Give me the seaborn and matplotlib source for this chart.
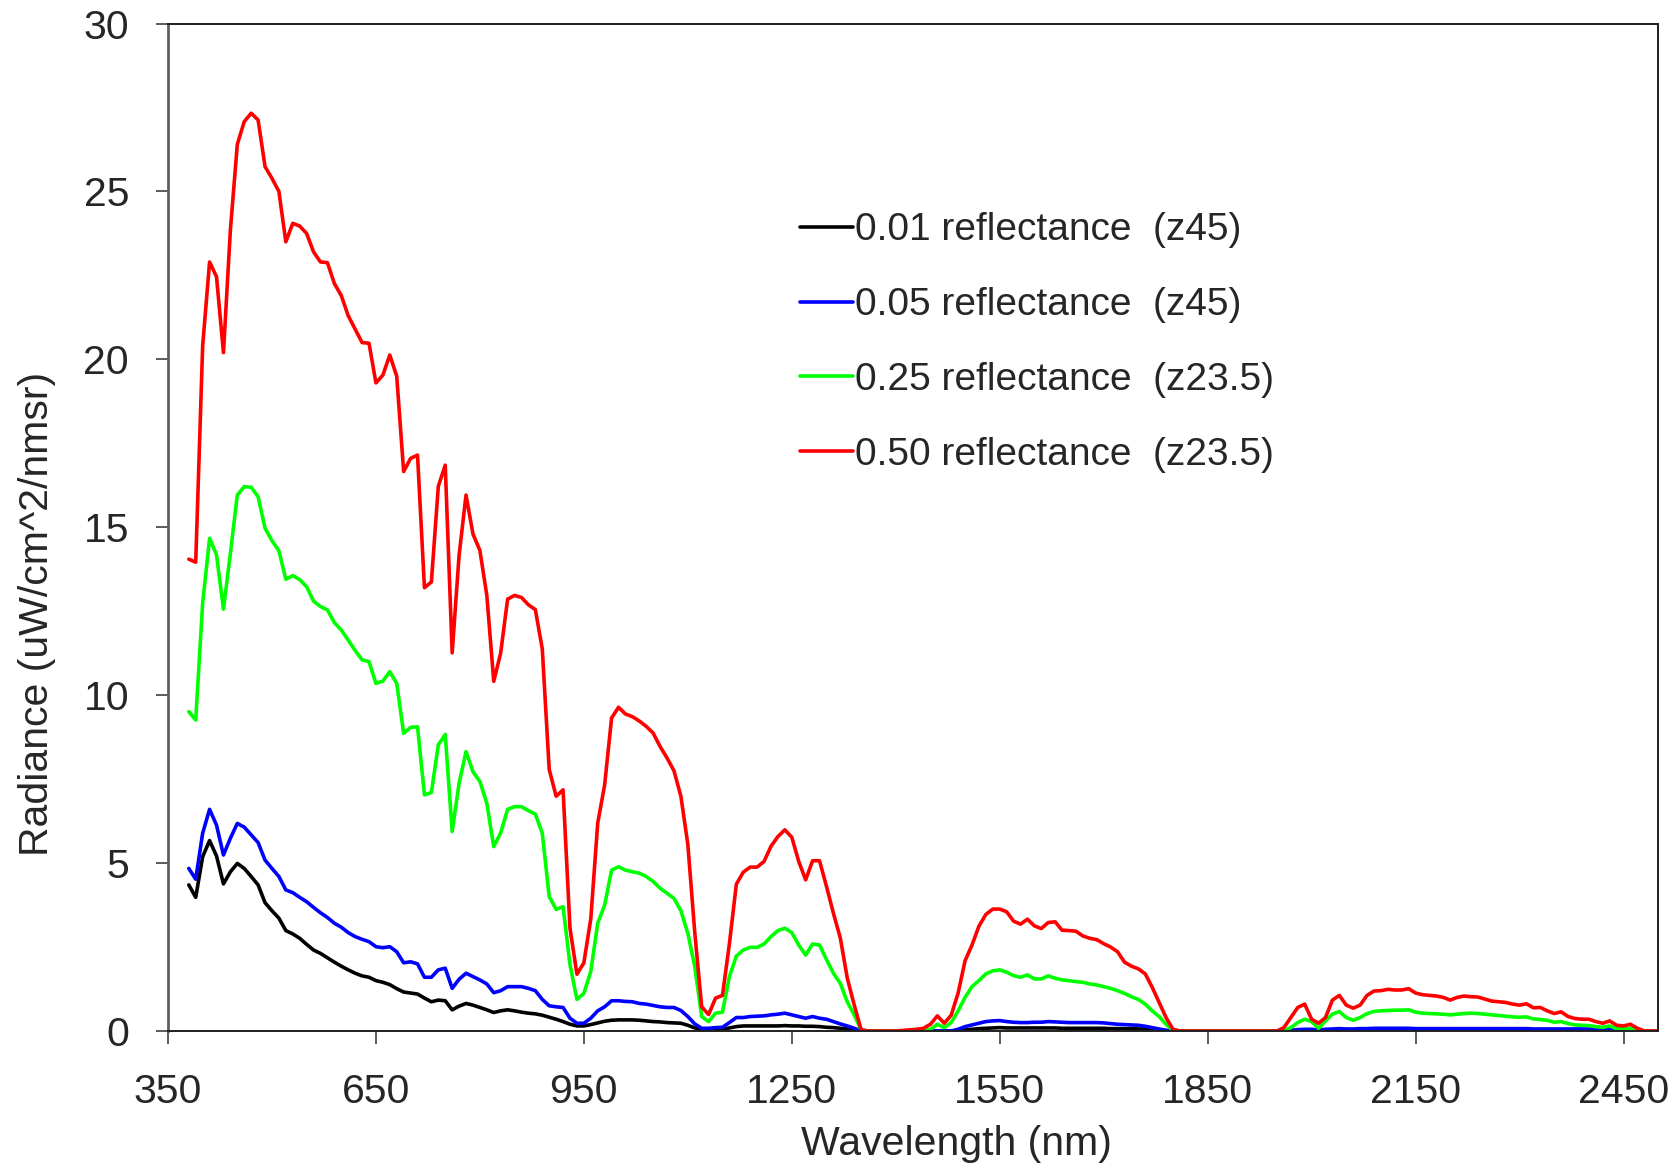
import matplotlib
matplotlib.use("Agg")
import matplotlib.pyplot as plt
import numpy as np
import pandas as pd
import seaborn as sns

# wavelength grid (nm): 10 nm steps, sparser where every curve sits at zero
WAVELENGTH = ([*range(380, 1370, 10)] + [1400, 1430] + [*range(1440, 1820, 10)]
              + [1850, 1900, 1950] + [*range(1960, 2510, 10)])

RED_050 = [
    14.05, 13.96, 20.4, 22.9, 22.46, 20.2, 23.85, 26.4, 27.08, 27.33,
    27.13, 25.74, 25.39, 25.0, 23.5, 24.05, 23.97, 23.75, 23.2, 22.9,
    22.88, 22.26, 21.9, 21.3, 20.9, 20.5, 20.48, 19.3, 19.53, 20.13,
    19.5, 16.66, 17.05, 17.15, 13.2, 13.37, 16.22, 16.85, 11.26, 14.17,
    15.96, 14.8, 14.31, 12.97, 10.41, 11.26, 12.86, 12.97, 12.91, 12.69,
    12.55, 11.38, 7.79, 6.99, 7.18, 3.06, 1.69, 2.03, 3.34, 6.19,
    7.33, 9.32, 9.64, 9.44, 9.36, 9.23, 9.07, 8.87, 8.47, 8.13,
    7.75, 6.99, 5.56, 2.94, 0.72, 0.49, 0.98, 1.06, 2.6, 4.37,
    4.73, 4.88, 4.88, 5.05, 5.5, 5.79, 5.99, 5.77, 5.05, 4.5,
    5.07, 5.07, 4.31, 3.51, 2.77, 1.58, 0.78, 0.04, 0.0,
    0.0, 0.05, 0.08, 0.2, 0.45, 0.23, 0.47, 1.13, 2.09, 2.56,
    3.12, 3.47, 3.63, 3.63, 3.55, 3.27, 3.18, 3.33, 3.13, 3.05,
    3.23, 3.25, 3.0, 2.99, 2.97, 2.83, 2.76, 2.72, 2.6, 2.5,
    2.36, 2.05, 1.93, 1.85, 1.7, 1.3, 0.85, 0.4, 0.05, 0.0,
    0.0, 0.0, 0.0, 0.1, 0.4, 0.7, 0.8, 0.35, 0.23, 0.4,
    0.92, 1.06, 0.77, 0.68, 0.77, 1.06, 1.19, 1.2, 1.24, 1.22,
    1.22, 1.26, 1.13, 1.08, 1.06, 1.04, 1.0, 0.92, 1.0, 1.04,
    1.02, 1.01, 0.95, 0.89, 0.87, 0.85, 0.8, 0.77, 0.81, 0.69,
    0.7, 0.6, 0.52, 0.57, 0.43, 0.37, 0.35, 0.35, 0.28, 0.23,
    0.3, 0.17, 0.15, 0.2, 0.08, 0.0, 0.0, 0.0,
]

GREEN_025 = [
    9.51, 9.26, 12.74, 14.67, 14.18, 12.56, 14.22, 15.96, 16.21, 16.19,
    15.91, 14.97, 14.6, 14.3, 13.45, 13.56, 13.44, 13.23, 12.8, 12.64,
    12.54, 12.16, 11.94, 11.64, 11.33, 11.05, 11.0, 10.35, 10.42, 10.7,
    10.35, 8.86, 9.04, 9.06, 7.03, 7.1, 8.52, 8.83, 5.94, 7.38,
    8.32, 7.72, 7.43, 6.78, 5.49, 5.9, 6.6, 6.68, 6.68, 6.56,
    6.46, 5.89, 4.0, 3.62, 3.7, 1.97, 0.94, 1.12, 1.77, 3.21,
    3.75, 4.79, 4.89, 4.79, 4.74, 4.7, 4.6, 4.45, 4.25, 4.1,
    3.95, 3.58, 2.91, 1.92, 0.43, 0.28, 0.53, 0.56, 1.62, 2.23,
    2.41, 2.49, 2.49, 2.59, 2.81, 2.99, 3.06, 2.93, 2.56, 2.26,
    2.59, 2.56, 2.13, 1.72, 1.42, 0.87, 0.48, 0.03, 0.0,
    0.0, 0.0, 0.02, 0.05, 0.2, 0.1, 0.25, 0.6, 1.0, 1.32,
    1.5, 1.7, 1.79, 1.82, 1.75, 1.65, 1.6, 1.67, 1.55, 1.55,
    1.64, 1.57, 1.52, 1.5, 1.47, 1.45, 1.4, 1.37, 1.32, 1.27,
    1.2, 1.12, 1.02, 0.94, 0.8, 0.6, 0.43, 0.2, 0.02, 0.0,
    0.0, 0.0, 0.0, 0.0, 0.1, 0.25, 0.35, 0.28, 0.08, 0.3,
    0.5, 0.58, 0.4, 0.32, 0.4, 0.52, 0.58, 0.6, 0.61, 0.62,
    0.62, 0.63, 0.56, 0.53, 0.52, 0.51, 0.5, 0.48, 0.5, 0.52,
    0.53, 0.52, 0.5, 0.48, 0.46, 0.44, 0.42, 0.41, 0.42, 0.36,
    0.34, 0.32, 0.26, 0.28, 0.22, 0.18, 0.17, 0.16, 0.13, 0.11,
    0.15, 0.07, 0.06, 0.08, 0.03, 0.0, 0.0, 0.0,
]

BLUE_005 = [
    4.84, 4.52, 5.89, 6.6, 6.13, 5.24, 5.74, 6.18, 6.07, 5.84,
    5.61, 5.09, 4.84, 4.6, 4.2, 4.12, 3.98, 3.85, 3.68, 3.52,
    3.38, 3.21, 3.09, 2.93, 2.81, 2.73, 2.66, 2.51, 2.48, 2.51,
    2.36, 2.03, 2.06, 2.0, 1.6, 1.6, 1.82, 1.87, 1.27, 1.54,
    1.72, 1.62, 1.52, 1.4, 1.14, 1.2, 1.32, 1.32, 1.32, 1.27,
    1.2, 0.94, 0.75, 0.72, 0.7, 0.38, 0.23, 0.23, 0.38, 0.6,
    0.72, 0.9, 0.9, 0.88, 0.87, 0.82, 0.8, 0.76, 0.72, 0.7,
    0.7, 0.61, 0.43, 0.21, 0.08, 0.08, 0.1, 0.11, 0.25, 0.4,
    0.4, 0.43, 0.44, 0.45, 0.48, 0.5, 0.53, 0.48, 0.43, 0.38,
    0.43, 0.38, 0.35, 0.28, 0.21, 0.15, 0.08, 0.01, 0.0,
    0.0, 0.0, 0.0, 0.0, 0.0, 0.0, 0.0, 0.05, 0.13, 0.18,
    0.23, 0.28, 0.3, 0.31, 0.28, 0.26, 0.25, 0.25, 0.26, 0.26,
    0.28, 0.27, 0.26, 0.25, 0.25, 0.25, 0.25, 0.25, 0.24, 0.22,
    0.2, 0.19, 0.18, 0.17, 0.14, 0.1, 0.06, 0.02, 0.0, 0.0,
    0.0, 0.0, 0.0, 0.0, 0.02, 0.04, 0.05, 0.05, 0.03, 0.05,
    0.06, 0.07, 0.06, 0.06, 0.07, 0.07, 0.08, 0.08, 0.08, 0.08,
    0.08, 0.08, 0.07, 0.07, 0.07, 0.07, 0.07, 0.07, 0.07, 0.07,
    0.07, 0.07, 0.07, 0.07, 0.07, 0.07, 0.07, 0.07, 0.07, 0.06,
    0.06, 0.06, 0.06, 0.06, 0.06, 0.06, 0.06, 0.06, 0.05, 0.05,
    0.05, 0.05, 0.05, 0.05, 0.02, 0.0, 0.0, 0.0,
]

BLACK_001 = [
    4.35, 3.98, 5.19, 5.67, 5.21, 4.38, 4.74, 4.99, 4.84, 4.6,
    4.35, 3.82, 3.58, 3.36, 2.99, 2.89, 2.76, 2.58, 2.41, 2.31,
    2.18, 2.05, 1.93, 1.82, 1.72, 1.64, 1.6, 1.5, 1.45, 1.38,
    1.26, 1.16, 1.13, 1.1, 0.98, 0.87, 0.92, 0.9, 0.63, 0.74,
    0.82, 0.77, 0.7, 0.63, 0.55, 0.6, 0.63, 0.6, 0.56, 0.53,
    0.51, 0.47, 0.41, 0.35, 0.28, 0.2, 0.15, 0.15, 0.19, 0.24,
    0.29, 0.32, 0.33, 0.33, 0.33, 0.32, 0.3, 0.28, 0.27, 0.25,
    0.24, 0.23, 0.17, 0.09, 0.04, 0.03, 0.04, 0.05, 0.09, 0.13,
    0.15, 0.15, 0.15, 0.15, 0.15, 0.15, 0.16, 0.15, 0.15, 0.14,
    0.14, 0.13, 0.11, 0.1, 0.08, 0.06, 0.03, 0.0, 0.0,
    0.0, 0.0, 0.0, 0.0, 0.0, 0.0, 0.0, 0.0, 0.03, 0.05,
    0.07, 0.08, 0.09, 0.1, 0.09, 0.09, 0.09, 0.09, 0.09, 0.09,
    0.09, 0.09, 0.08, 0.08, 0.08, 0.08, 0.08, 0.08, 0.08, 0.07,
    0.07, 0.07, 0.07, 0.06, 0.06, 0.05, 0.03, 0.01, 0.0, 0.0,
    0.0, 0.0, 0.0, 0.0, 0.01, 0.02, 0.03, 0.03, 0.03, 0.03,
    0.03, 0.03, 0.03, 0.03, 0.03, 0.03, 0.03, 0.03, 0.03, 0.03,
    0.03, 0.03, 0.03, 0.03, 0.03, 0.03, 0.03, 0.03, 0.03, 0.03,
    0.03, 0.03, 0.03, 0.03, 0.03, 0.03, 0.03, 0.03, 0.03, 0.03,
    0.03, 0.03, 0.03, 0.03, 0.03, 0.03, 0.03, 0.03, 0.03, 0.03,
    0.03, 0.03, 0.02, 0.02, 0.01, 0.0, 0.0, 0.0,
]

SERIES = ["0.01 reflectance  (z45)", "0.05 reflectance  (z45)",
          "0.25 reflectance  (z23.5)", "0.50 reflectance  (z23.5)"]
COLORS = {SERIES[0]: "#000000", SERIES[1]: "#0000FF",
          SERIES[2]: "#00FF00", SERIES[3]: "#FF0000"}
X_TICKS = [350, 650, 950, 1250, 1550, 1850, 2150, 2450]
Y_TICKS = [0, 5, 10, 15, 20, 25, 30]

df = pd.concat([
    pd.DataFrame({"wavelength": WAVELENGTH, "radiance": vals, "series": name})
    for name, vals in zip(SERIES, [BLACK_001, BLUE_005, GREEN_025, RED_050])
], ignore_index=True)

sns.set_theme(style="white")
plt.rcParams["font.family"] = ["Liberation Sans", "DejaVu Sans"]

fig = plt.figure(figsize=(16.8, 11.66), dpi=100)
ax = fig.add_axes([0.1, 0.1158, 0.887, 0.864])

sns.lineplot(data=df, x="wavelength", y="radiance", hue="series",
             hue_order=SERIES, palette=COLORS, linewidth=2.6, ax=ax,
             estimator=None, sort=False)

ax.set_xlim(350, 2500)
ax.set_ylim(0, 30)
ax.set_xticks(X_TICKS)
ax.set_yticks(Y_TICKS)
ax.tick_params(axis="both", which="major", labelsize=29.5, direction="out",
               length=9, width=1.2, color="#404040", bottom=True, left=True)
ax.tick_params(axis="x", pad=21)
ax.tick_params(axis="y", pad=19)
for s in ax.spines.values():
    s.set_color("#202020")
    s.set_linewidth(1.4)
ax.spines["left"].set_color("#606060")
ax.spines["left"].set_linewidth(2)

ax.set_xlabel("Wavelength (nm)", fontsize=29.5)
ax.set_ylabel("Radiance (uW/cm^2/nmsr)", fontsize=29.5)
ax.xaxis.set_label_coords(0.529, -0.093)
ax.yaxis.set_label_coords(-0.075, 0.414)

ax.legend(frameon=False, loc="upper left", bbox_to_anchor=(0.411, 0.832),
          fontsize=28, handlelength=1.37, handletextpad=0.05,
          labelspacing=1.0, borderpad=0)

fig.savefig("out.png", dpi=100)
